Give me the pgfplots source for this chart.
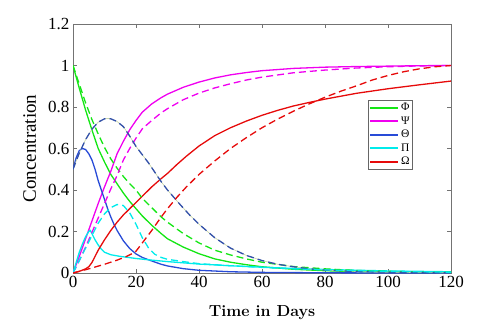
\documentclass[border=0pt]{standalone}
\usepackage{pgfplots}
\pgfplotsset{compat=1.18}
\usepackage{fontspec}
\usetikzlibrary{calc}
\newfontfamily\timesfont{Liberation Serif}

\definecolor{cgreen}{RGB}{20,230,20}
\definecolor{cmag}{RGB}{240,0,240}
\definecolor{cblue}{RGB}{40,75,215}
\definecolor{cblued}{RGB}{50,80,170}
\definecolor{ccyan}{RGB}{0,235,235}
\definecolor{cred}{RGB}{230,10,10}
\definecolor{cpale}{RGB}{195,210,160}

\begin{document}
\begin{tikzpicture}
\begin{axis}[
    name=ax,
    scale only axis,
    width=378pt, height=249pt,
    xmin=0, xmax=120, ymin=0, ymax=1.2,
    xtick={0,20,...,120},
    ytick={0,0.2,0.4,0.6,0.8,1,1.2},
    axis line style={black!55},
    tick style={black!55},
    major tick length=4pt,
    tick align=inside,
    ticklabel style={font=\timesfont\fontsize{17}{20}\selectfont},
    /pgf/number format/assume math mode=true,
    legend cell align=left,
    legend style={
        at={(rel axis cs:0.78,0.695)}, anchor=north west,
        draw=black!60, fill=white,
        font=\timesfont\fontsize{11.5}{13}\selectfont,
        inner sep=1pt, row sep=0.4pt,
    },
    legend image code/.code={\draw[#1, line width=2pt] (0pt,0pt) -- (28pt,0pt);},
    every axis plot/.append style={line width=1.3pt},
]
% --- solid curves
\addplot[cgreen] coordinates {
 (0,1) (2,0.89) (4,0.785) (6,0.69) (8,0.60) (10,0.535) (12,0.475) (14,0.43)
 (16,0.385) (18,0.345) (20,0.31) (22,0.275) (25,0.23) (28,0.19) (30,0.165)
 (35,0.125) (40,0.093) (45,0.068) (50,0.052) (55,0.04) (60,0.03) (70,0.018)
 (80,0.011) (90,0.007) (100,0.005) (110,0.003) (120,0.002)};
\addlegendentry{Φ}
\addplot[cmag] coordinates {
 (0,0) (2,0.08) (4,0.165) (6,0.25) (8,0.335) (10,0.415) (12,0.49) (14,0.575)
 (16,0.635) (18,0.69) (20,0.735) (22,0.775) (25,0.815) (28,0.845) (30,0.862)
 (35,0.895) (40,0.92) (45,0.94) (50,0.955) (55,0.966) (60,0.975) (70,0.986)
 (80,0.992) (90,0.995) (100,0.997) (110,0.999) (120,1)};
\addlegendentry{Ψ}
\addplot[cblue] coordinates {
 (0,0.5) (1,0.555) (2,0.59) (3,0.6) (4,0.595) (5,0.575) (6,0.545) (7,0.5)
 (8,0.445) (9,0.40) (10,0.355) (11,0.31) (12,0.27) (13,0.235) (14,0.205)
 (16,0.155) (18,0.118) (20,0.092) (22,0.075) (25,0.058) (28,0.042) (30,0.034)
 (35,0.021) (40,0.013) (50,0.006) (60,0.003) (80,0.001) (100,0) (120,0)};
\addlegendentry{Θ}
\addplot[ccyan] coordinates {
 (0,0) (1,0.05) (2,0.1) (3,0.14) (4,0.175) (5,0.2) (5.5,0.205) (6,0.19)
 (7,0.16) (8,0.135) (9,0.115) (10,0.1) (12,0.088) (15,0.08) (20,0.07)
 (25,0.062) (30,0.055) (40,0.043) (50,0.035) (60,0.028) (70,0.022)
 (80,0.017) (100,0.01) (120,0.006)};
\addlegendentry{Π}
\addplot[cred] coordinates {
 (0,0) (2,0.008) (4,0.02) (5,0.03) (6,0.05) (7,0.08) (8,0.11) (9,0.135)
 (10,0.16) (12,0.205) (14,0.245) (16,0.28) (18,0.31) (20,0.34) (22,0.37)
 (25,0.415) (28,0.455) (30,0.48) (33,0.523) (36,0.563) (40,0.612) (45,0.662)
 (50,0.70) (55,0.732) (60,0.76) (65,0.784) (70,0.805) (75,0.822)
 (80,0.838) (90,0.866) (100,0.888) (110,0.907) (120,0.925)};
\addlegendentry{Ω}
% --- dashed curves
\addplot[cgreen, dash pattern=on 7pt off 4pt, forget plot] coordinates {
 (0,1) (2,0.91) (4,0.82) (6,0.74) (8,0.67) (10,0.605) (12,0.55) (14,0.505)
 (16,0.465) (18,0.43) (20,0.40) (22,0.36) (25,0.315) (28,0.27) (30,0.245)
 (35,0.19) (40,0.145) (45,0.11) (50,0.087) (55,0.068) (60,0.052) (70,0.031)
 (80,0.02) (90,0.012) (100,0.008) (110,0.005) (120,0.003)};
\addplot[cmag, dash pattern=on 7pt off 4pt, forget plot] coordinates {
 (0,0) (2,0.06) (4,0.125) (6,0.195) (8,0.265) (10,0.335) (12,0.405) (14,0.47)
 (16,0.545) (18,0.60) (20,0.65) (22,0.695) (25,0.735) (28,0.772) (30,0.792)
 (35,0.835) (40,0.867) (45,0.892) (50,0.912) (55,0.93) (60,0.944) (70,0.965)
 (80,0.978) (90,0.988) (100,0.994) (110,0.998) (120,1)};
\addplot[cpale, line width=0.6pt, forget plot] coordinates {
 (0,0.5) (2,0.578) (4,0.643) (6,0.693) (8,0.727) (10,0.743) (11,0.745)
 (12,0.743) (14,0.73) (16,0.705) (18,0.66) (20,0.61) (22,0.57) (24,0.53)
 (26,0.485) (28,0.44) (30,0.4) (32,0.365) (34,0.33) (37,0.28) (40,0.235)
 (45,0.17) (50,0.12) (55,0.085) (60,0.06) (65,0.042) (70,0.03) (75,0.02)
 (80,0.014) (90,0.007) (100,0.004) (110,0.002) (120,0.001)};
\addplot[cblued, dash pattern=on 7pt off 4pt, forget plot] coordinates {
 (0,0.5) (2,0.578) (4,0.643) (6,0.693) (8,0.727) (10,0.743) (11,0.745)
 (12,0.743) (14,0.73) (16,0.705) (18,0.66) (20,0.61) (22,0.57) (24,0.53)
 (26,0.485) (28,0.44) (30,0.4) (32,0.365) (34,0.33) (37,0.28) (40,0.235)
 (45,0.17) (50,0.12) (55,0.085) (60,0.06) (65,0.042) (70,0.03) (75,0.02)
 (80,0.014) (90,0.007) (100,0.004) (110,0.002) (120,0.001)};
\addplot[ccyan, dash pattern=on 7pt off 4pt, forget plot] coordinates {
 (0,0) (2,0.06) (4,0.12) (6,0.18) (8,0.24) (10,0.285) (12,0.315) (14,0.33)
 (16,0.325) (18,0.29) (20,0.235) (22,0.17) (24,0.12) (26,0.09) (28,0.075)
 (30,0.066) (35,0.055) (40,0.045) (50,0.035) (60,0.027) (70,0.02)
 (80,0.015) (100,0.008) (120,0.004)};
\addplot[cred, dash pattern=on 7pt off 4pt, forget plot] coordinates {
 (0,0) (5,0.02) (10,0.042) (14,0.062) (17,0.08) (19,0.095) (20,0.105)
 (22,0.145) (25,0.205) (28,0.27) (30,0.31) (33,0.365) (36,0.415) (40,0.475)
 (45,0.54) (50,0.6) (55,0.652) (60,0.70) (65,0.742) (70,0.78) (75,0.815)
 (80,0.847) (85,0.876) (90,0.902) (95,0.93) (100,0.952) (105,0.97)
 (110,0.984) (115,0.994) (120,1.0)};
\end{axis}
\node[anchor=base, font=\bfseries\fontsize{16}{19}\selectfont] at ($(ax.south)+(0,-43pt)$) {Time in Days};
\node[anchor=base, rotate=90, font=\timesfont\fontsize{19}{22}\selectfont] at ($(ax.west)+(-37pt,0)$) {Concentration};
\pgfresetboundingbox
\path[use as bounding box] ($(ax.south west)+(-73pt,-51pt)$) rectangle ($(ax.north east)+(32pt,24pt)$);
\end{tikzpicture}
\end{document}
